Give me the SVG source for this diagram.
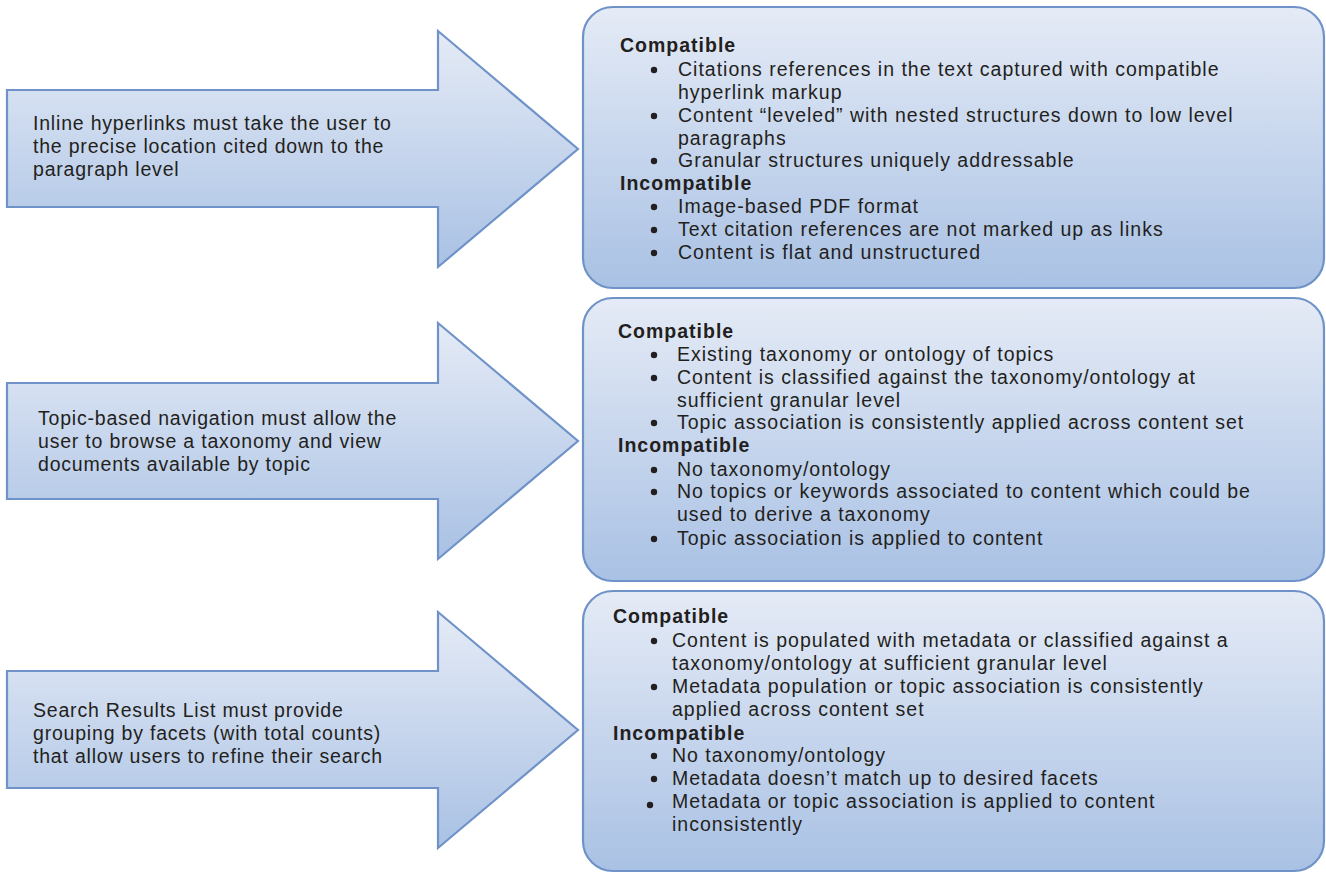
<svg xmlns="http://www.w3.org/2000/svg" width="1326" height="873" viewBox="0 0 1326 873">
  <defs>
    <linearGradient id="gradFill" x1="0" y1="0" x2="0" y2="1">
      <stop offset="0" stop-color="#E5EBF6"/>
      <stop offset="1" stop-color="#A9C1E4"/>
    </linearGradient>
    <style>
      .shape { fill: url(#gradFill); stroke: #6F93C8; stroke-width: 2.2; stroke-linejoin: miter; }
      .atext { font-family: "Liberation Sans", Arial, sans-serif; font-size: 19.5px; letter-spacing: 0.8px; fill: #231F20; }
      .btext { font-family: "Liberation Sans", Arial, sans-serif; font-size: 19.5px; letter-spacing: 1px; fill: #231F20; }
      .head { font-family: "Liberation Sans", Arial, sans-serif; font-size: 19.5px; font-weight: bold; letter-spacing: 1px; fill: #231F20; }
      .bullet { fill: #231F20; }
    </style>
  </defs>

  <g id="connectors"></g>

  <g id="arrow1">
    <polygon class="shape" points="7,90 438,90 438,31 578,149 438,267 438,207 7,207"/>
    <text class="atext" x="33" y="130">Inline hyperlinks must take the user to</text>
    <text class="atext" x="33" y="153">the precise location cited down to the</text>
    <text class="atext" x="33" y="176">paragraph level</text>
  </g>

  <g id="arrow2">
    <polygon class="shape" points="7,383 438,383 438,323 578,441 438,559 438,499 7,499"/>
    <text class="atext" x="38" y="425">Topic-based navigation must allow the</text>
    <text class="atext" x="38" y="448">user to browse a taxonomy and view</text>
    <text class="atext" x="38" y="471">documents available by topic</text>
  </g>

  <g id="arrow3">
    <polygon class="shape" points="7,671 438,671 438,612 578,730 438,848 438,788 7,788"/>
    <text class="atext" x="33" y="717">Search Results List must provide</text>
    <text class="atext" x="33" y="740">grouping by facets (with total counts)</text>
    <text class="atext" x="33" y="763">that allow users to refine their search</text>
  </g>

  <g id="box1">
    <rect class="shape" x="583" y="7" width="741" height="281" rx="30" ry="30"/>
    <text class="head" x="620" y="52">Compatible</text>
    <circle class="bullet" cx="654" cy="70" r="3.2"/>
    <text class="btext" x="678" y="76">Citations references in the text captured with compatible</text>
    <text class="btext" x="678" y="99">hyperlink markup</text>
    <circle class="bullet" cx="654" cy="116" r="3.2"/>
    <text class="btext" x="678" y="122">Content “leveled” with nested structures down to low level</text>
    <text class="btext" x="678" y="145">paragraphs</text>
    <circle class="bullet" cx="654" cy="161" r="3.2"/>
    <text class="btext" x="678" y="167">Granular structures uniquely addressable</text>
    <text class="head" x="620" y="190">Incompatible</text>
    <circle class="bullet" cx="654" cy="207" r="3.2"/>
    <text class="btext" x="678" y="213">Image-based PDF format</text>
    <circle class="bullet" cx="654" cy="230" r="3.2"/>
    <text class="btext" x="678" y="236">Text citation references are not marked up as links</text>
    <circle class="bullet" cx="654" cy="253" r="3.2"/>
    <text class="btext" x="678" y="259">Content is flat and unstructured</text>
  </g>

  <g id="box2">
    <rect class="shape" x="583" y="298" width="741" height="283" rx="30" ry="30"/>
    <text class="head" x="618" y="338">Compatible</text>
    <circle class="bullet" cx="654" cy="355" r="3.2"/>
    <text class="btext" x="677" y="361">Existing taxonomy or ontology of topics</text>
    <circle class="bullet" cx="654" cy="378" r="3.2"/>
    <text class="btext" x="677" y="384">Content is classified against the taxonomy/ontology at</text>
    <text class="btext" x="677" y="407">sufficient granular level</text>
    <circle class="bullet" cx="654" cy="423" r="3.2"/>
    <text class="btext" x="677" y="429">Topic association is consistently applied across content set</text>
    <text class="head" x="618" y="452">Incompatible</text>
    <circle class="bullet" cx="654" cy="470" r="3.2"/>
    <text class="btext" x="677" y="476">No taxonomy/ontology</text>
    <circle class="bullet" cx="654" cy="492" r="3.2"/>
    <text class="btext" x="677" y="498">No topics or keywords associated to content which could be</text>
    <text class="btext" x="677" y="521">used to derive a taxonomy</text>
    <circle class="bullet" cx="654" cy="539" r="3.2"/>
    <text class="btext" x="677" y="545">Topic association is applied to content</text>
  </g>

  <g id="box3">
    <rect class="shape" x="583" y="591" width="741" height="280" rx="30" ry="30"/>
    <text class="head" x="613" y="623">Compatible</text>
    <circle class="bullet" cx="654" cy="641" r="3.2"/>
    <text class="btext" x="672" y="647">Content is populated with metadata or classified against a</text>
    <text class="btext" x="672" y="670">taxonomy/ontology at sufficient granular level</text>
    <circle class="bullet" cx="654" cy="687" r="3.2"/>
    <text class="btext" x="672" y="693">Metadata population or topic association is consistently</text>
    <text class="btext" x="672" y="716">applied across content set</text>
    <text class="head" x="613" y="740">Incompatible</text>
    <circle class="bullet" cx="654" cy="756" r="3.2"/>
    <text class="btext" x="672" y="762">No taxonomy/ontology</text>
    <circle class="bullet" cx="654" cy="779" r="3.2"/>
    <text class="btext" x="672" y="785">Metadata doesn’t match up to desired facets</text>
    <circle class="bullet" cx="650" cy="805" r="3.2"/>
    <text class="btext" x="672" y="808">Metadata or topic association is applied to content</text>
    <text class="btext" x="672" y="831">inconsistently</text>
  </g>
</svg>
